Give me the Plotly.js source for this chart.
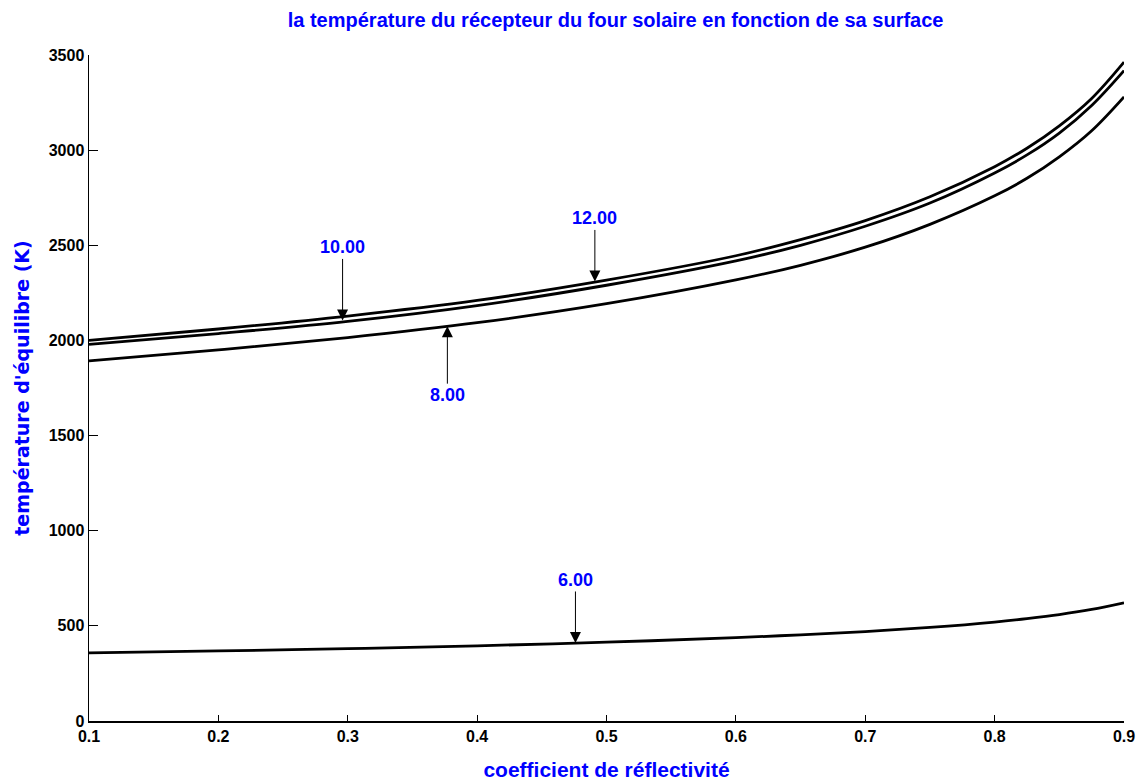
<!DOCTYPE html>
<html>
<head>
<meta charset="utf-8">
<script src="https://cdn.plot.ly/plotly-3.0.1.min.js"></script>
<style>html,body{margin:0;padding:0;background:#fff;}#chart{width:1140px;height:782px;}</style>
</head>
<body>
<div id="chart"></div>
<script>
const reflectivity = [0.1, 0.2, 0.3, 0.4, 0.5, 0.6, 0.65, 0.7, 0.75, 0.8, 0.825, 0.85, 0.875, 0.9];
const temp12 = [2000, 2060, 2128, 2210, 2317, 2445, 2530, 2630, 2755, 2913, 3010, 3128, 3272, 3463];
const temp10 = [1979, 2036, 2100, 2183, 2290, 2418, 2500, 2600, 2722, 2880, 2975, 3090, 3235, 3418];
const temp8  = [1893, 1950, 2015, 2093, 2193, 2318, 2395, 2490, 2610, 2760, 2852, 2965, 3102, 3280];
const temp6  = [358, 368, 380, 395, 414, 438, 453, 470, 492, 520, 538, 559, 586, 621];
const seriesLabels = ['12.00', '10.00', '8.00', '6.00'];
const labelX = [0.491, 0.296, 0.377, 0.476];
const labelY = [2310, 2105, 2075, 410];
const xTicks = [0.1, 0.2, 0.3, 0.4, 0.5, 0.6, 0.7, 0.8, 0.9];
const yTicks = [0, 500, 1000, 1500, 2000, 2500, 3000, 3500];

const allSeries = [temp12, temp10, temp8, temp6];
const traces = allSeries.map((s, i) => ({
  x: reflectivity, y: s, type: 'scatter', mode: 'lines',
  line: {color: '#000000', width: 2.8, shape: 'spline', smoothing: 1},
  name: seriesLabels[i], showlegend: false, hoverinfo: 'none'
}));

const axOffsets = [-63, -73, 69, -63];
const annotations = seriesLabels.map((t, i) => ({
  x: labelX[i], y: labelY[i], xref: 'x', yref: 'y', text: t,
  showarrow: true, arrowhead: 2, arrowsize: 2.2, arrowwidth: 1, arrowcolor: '#000',
  ax: 0, ay: axOffsets[i],
  font: {family: 'Liberation Sans Narrow, Arial Narrow, Liberation Sans, sans-serif', size: 18, color: '#0000ff', weight: 'bold'}
}));

const layout = {
  width: 1140, height: 782,
  margin: {l: 89, r: 16, t: 55, b: 61},
  paper_bgcolor: '#fff', plot_bgcolor: '#fff',
  title: {text: 'la température du récepteur du four solaire en fonction de sa surface',
    x: 0.54, xanchor: 'center', y: 0.974, yanchor: 'middle',
    font: {family: 'Liberation Sans Narrow, Arial Narrow, Liberation Sans, sans-serif', size: 20, color: '#0000ff', weight: 'bold'}},
  xaxis: {
    range: [0.1, 0.9], tickvals: xTicks, ticktext: xTicks.map(v => v.toFixed(1)),
    ticks: 'inside', ticklen: 6, tickwidth: 1, tickcolor: '#000',
    showline: true, linecolor: '#000', linewidth: 1.5, mirror: false,
    showgrid: false, zeroline: false,
    tickfont: {family: 'Liberation Sans Narrow, Arial Narrow, Liberation Sans, sans-serif', size: 16, color: '#000', weight: 'bold'},
    title: {text: 'coefficient de réflectivité', standoff: 18,
      font: {family: 'Liberation Sans Narrow, Arial Narrow, Liberation Sans, sans-serif', size: 21, color: '#0000ff', weight: 'bold'}}
  },
  yaxis: {
    range: [0, 3500], tickvals: yTicks, ticktext: yTicks.map(String),
    ticks: 'inside', ticklen: 9, tickwidth: 1, tickcolor: '#000',
    showline: true, linecolor: '#000', linewidth: 1.5, mirror: false,
    showgrid: false, zeroline: false,
    tickfont: {family: 'Liberation Sans Narrow, Arial Narrow, Liberation Sans, sans-serif', size: 16, color: '#000', weight: 'bold'},
    title: {text: "température d'équilibre (K)", standoff: 14,
      font: {family: 'DejaVu Sans, sans-serif', size: 19, color: '#0000ff', weight: 'bold'}}
  },
  annotations: annotations,
  showlegend: false
};

Plotly.newPlot('chart', traces, layout, {displayModeBar: false, staticPlot: true});
</script>
</body>
</html>
